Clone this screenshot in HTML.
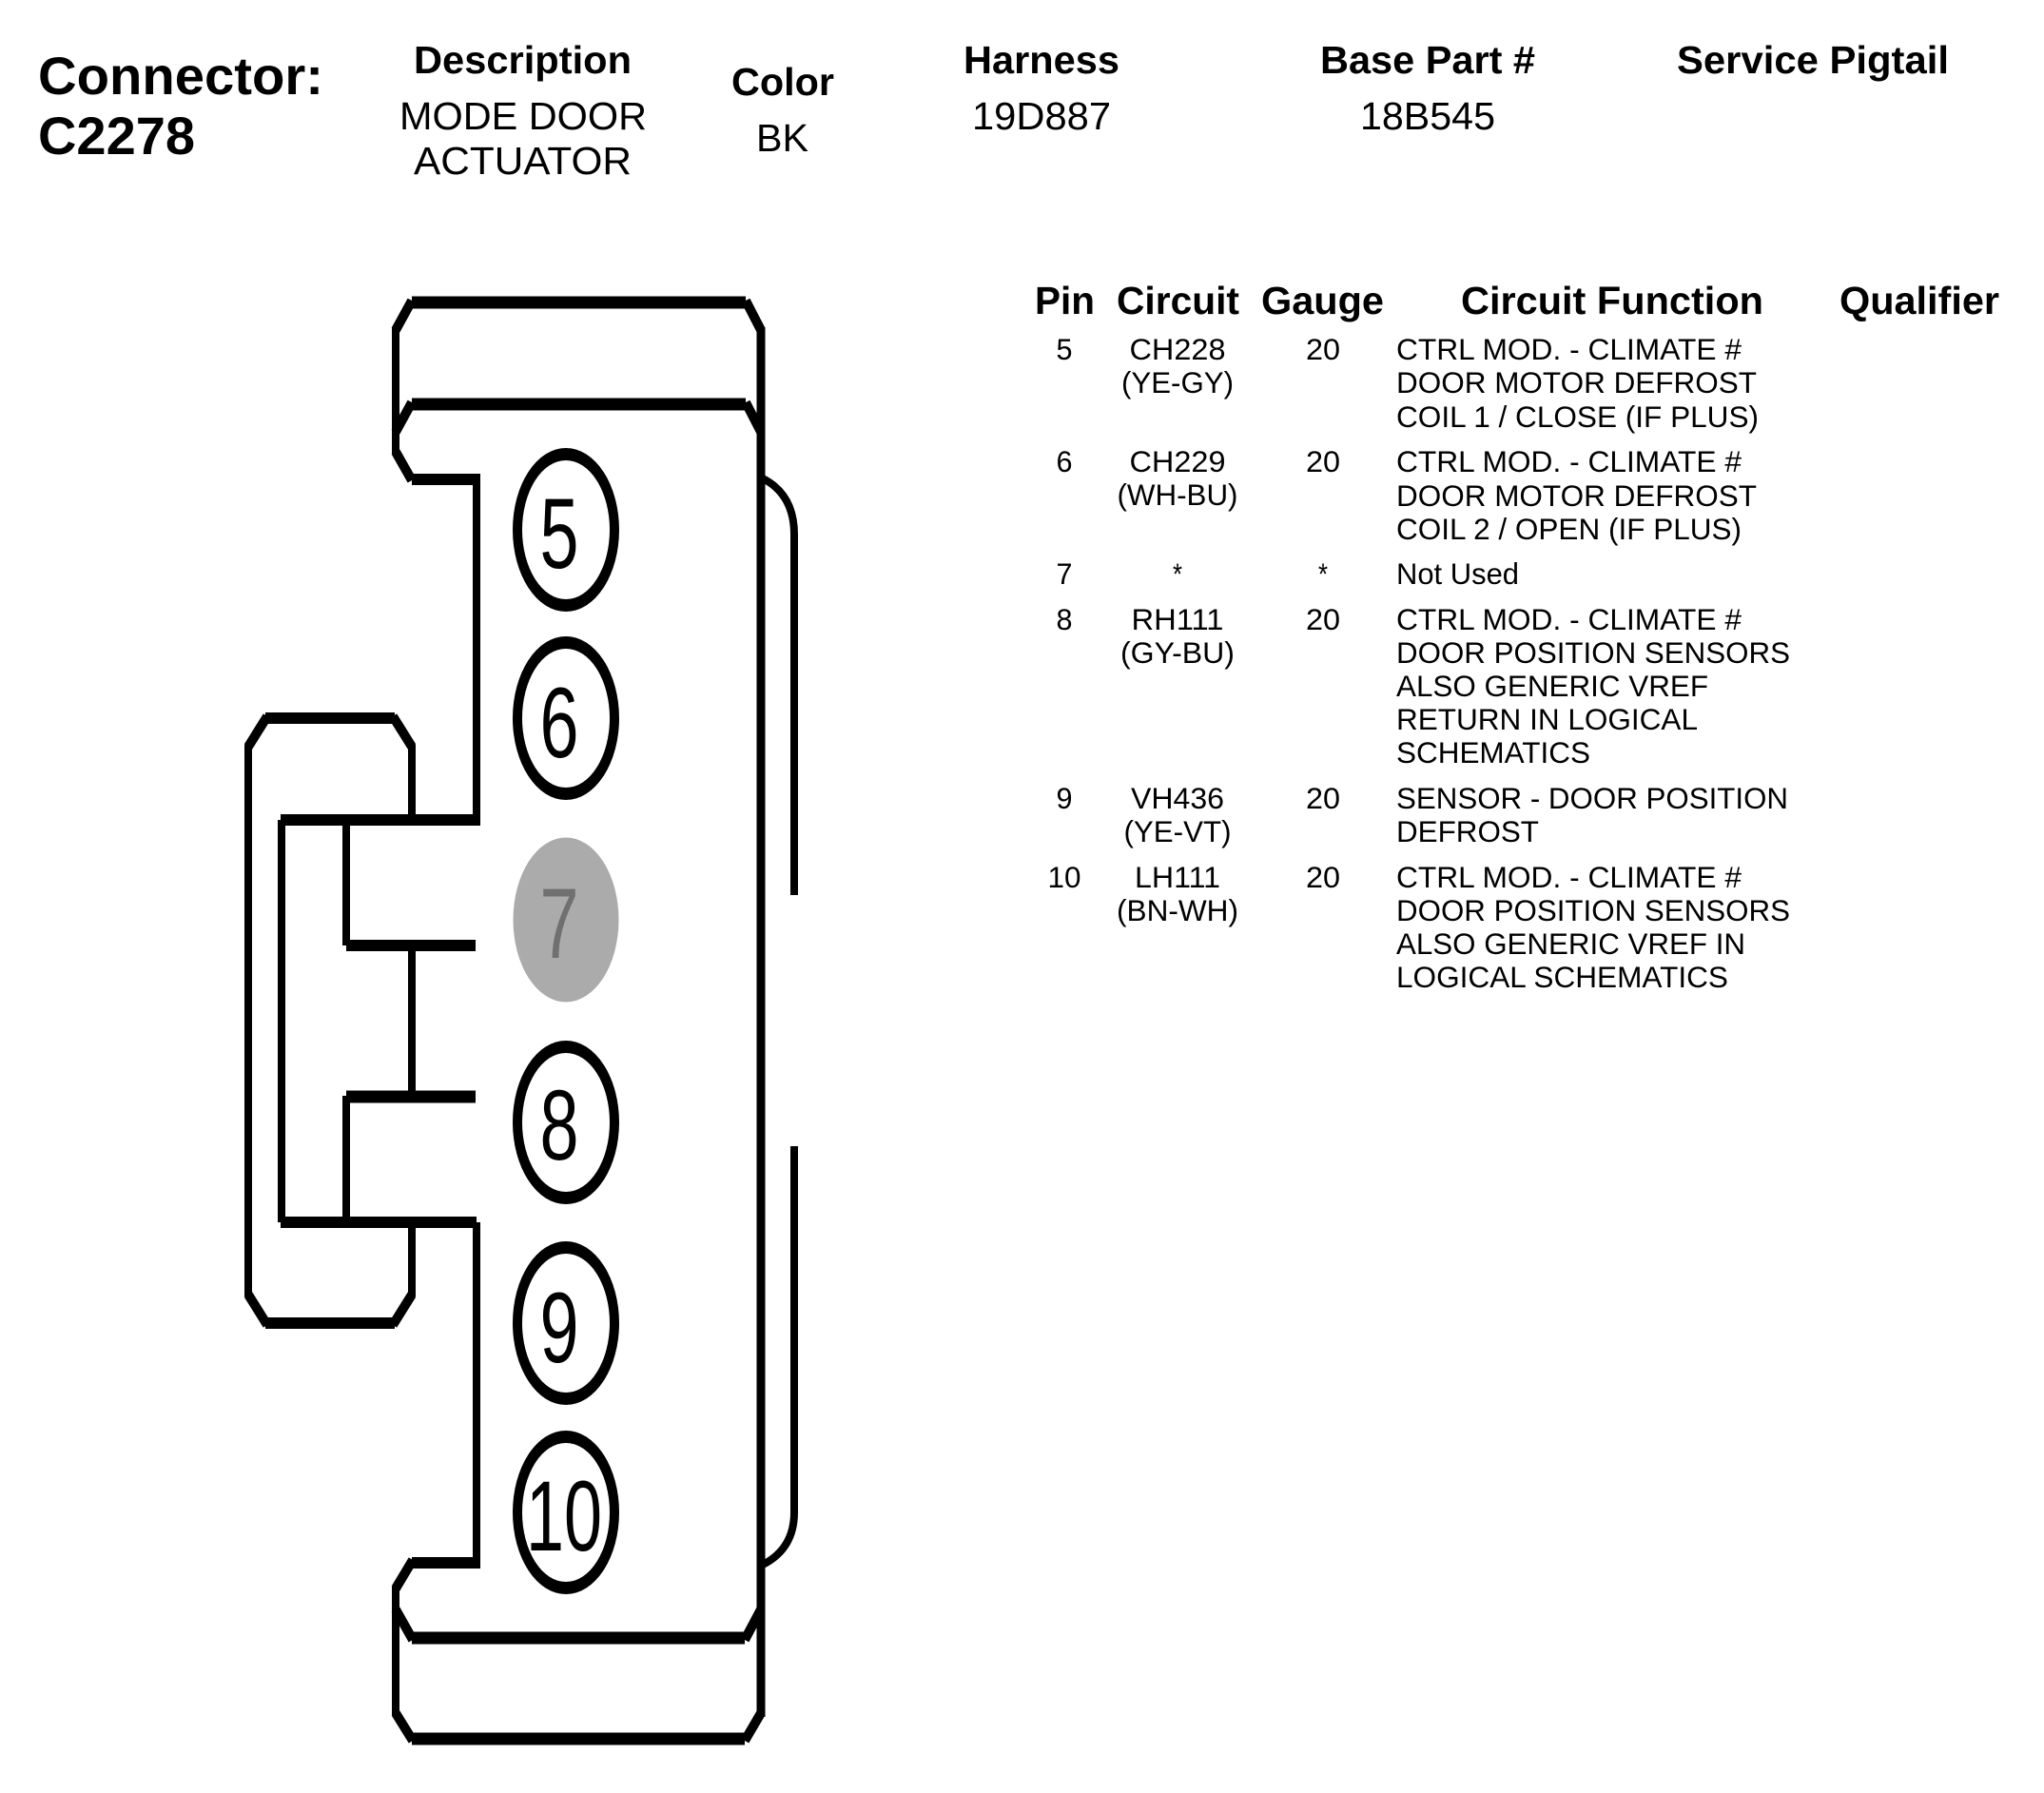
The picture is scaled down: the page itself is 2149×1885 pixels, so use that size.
<!DOCTYPE html>
<html><head><meta charset="utf-8"><style>
html,body{margin:0;padding:0;background:#fff}
svg{display:block}
text{font-family:"Liberation Sans",Arial,sans-serif;fill:#000}
.h{font-weight:bold;font-size:41px}
.v{font-size:41px}
.t{font-size:31.5px}
.d{font-size:105px}
line,polyline,path.s{stroke:#000;fill:none}
.n{stroke-width:8}.m{stroke-width:12}.b{stroke-width:13}.x{stroke-width:10}
</style></head><body>
<svg xmlns="http://www.w3.org/2000/svg" width="2149" height="1885" viewBox="0 0 2149 1885">
<rect width="2149" height="1885" fill="#fff"/>
<!-- Header -->
<g text-anchor="start">
<text x="40" y="99" font-weight="bold" font-size="56" textLength="300" lengthAdjust="spacingAndGlyphs">Connector:</text>
<text x="40" y="162" font-weight="bold" font-size="56" textLength="165" lengthAdjust="spacingAndGlyphs">C2278</text>
<text class="h" x="435" y="77" textLength="229" lengthAdjust="spacingAndGlyphs">Description</text>
<text class="h" x="769" y="100" textLength="108" lengthAdjust="spacingAndGlyphs">Color</text>
<text class="h" x="1013" y="77" textLength="164" lengthAdjust="spacingAndGlyphs">Harness</text>
<text class="h" x="1388" y="77" textLength="226" lengthAdjust="spacingAndGlyphs">Base Part #</text>
<text class="h" x="1763" y="77" textLength="286" lengthAdjust="spacingAndGlyphs">Service Pigtail</text>
<text class="v" x="420" y="136" textLength="260" lengthAdjust="spacingAndGlyphs">MODE DOOR</text>
<text class="v" x="435" y="183" textLength="229" lengthAdjust="spacingAndGlyphs">ACTUATOR</text>
<text class="v" x="795" y="159" textLength="55" lengthAdjust="spacingAndGlyphs">BK</text>
<text class="v" x="1022" y="136" textLength="146" lengthAdjust="spacingAndGlyphs">19D887</text>
<text class="v" x="1430" y="136" textLength="142" lengthAdjust="spacingAndGlyphs">18B545</text>
<!-- Table head -->
<text class="h" x="1088" y="330" font-size="41" textLength="63" lengthAdjust="spacingAndGlyphs">Pin</text>
<text class="h" x="1174" y="330" textLength="129" lengthAdjust="spacingAndGlyphs">Circuit</text>
<text class="h" x="1326" y="330" textLength="129" lengthAdjust="spacingAndGlyphs">Gauge</text>
<text class="h" x="1536" y="330" textLength="318" lengthAdjust="spacingAndGlyphs">Circuit Function</text>
<text class="h" x="1934" y="330" textLength="168" lengthAdjust="spacingAndGlyphs">Qualifier</text>
<!-- Function column -->
<g class="t">
<text class="t" x="1468" y="378" textLength="363" lengthAdjust="spacingAndGlyphs">CTRL MOD. - CLIMATE #</text>
<text class="t" x="1468" y="413" textLength="379" lengthAdjust="spacingAndGlyphs">DOOR MOTOR DEFROST</text>
<text class="t" x="1468" y="449" textLength="381" lengthAdjust="spacingAndGlyphs">COIL 1 / CLOSE (IF PLUS)</text>
<text class="t" x="1468" y="496" textLength="363" lengthAdjust="spacingAndGlyphs">CTRL MOD. - CLIMATE #</text>
<text class="t" x="1468" y="532" textLength="379" lengthAdjust="spacingAndGlyphs">DOOR MOTOR DEFROST</text>
<text class="t" x="1468" y="567" textLength="363" lengthAdjust="spacingAndGlyphs">COIL 2 / OPEN (IF PLUS)</text>
<text class="t" x="1468" y="614" textLength="129" lengthAdjust="spacingAndGlyphs">Not Used</text>
<text class="t" x="1468" y="662" textLength="363" lengthAdjust="spacingAndGlyphs">CTRL MOD. - CLIMATE #</text>
<text class="t" x="1468" y="697" textLength="414" lengthAdjust="spacingAndGlyphs">DOOR POSITION SENSORS</text>
<text class="t" x="1468" y="732" textLength="328" lengthAdjust="spacingAndGlyphs">ALSO GENERIC VREF</text>
<text class="t" x="1468" y="767" textLength="317" lengthAdjust="spacingAndGlyphs">RETURN IN LOGICAL</text>
<text class="t" x="1468" y="802" textLength="204" lengthAdjust="spacingAndGlyphs">SCHEMATICS</text>
<text class="t" x="1468" y="850" textLength="412" lengthAdjust="spacingAndGlyphs">SENSOR - DOOR POSITION</text>
<text class="t" x="1468" y="885" textLength="150" lengthAdjust="spacingAndGlyphs">DEFROST</text>
<text class="t" x="1468" y="933" textLength="363" lengthAdjust="spacingAndGlyphs">CTRL MOD. - CLIMATE #</text>
<text class="t" x="1468" y="968" textLength="414" lengthAdjust="spacingAndGlyphs">DOOR POSITION SENSORS</text>
<text class="t" x="1468" y="1003" textLength="367" lengthAdjust="spacingAndGlyphs">ALSO GENERIC VREF IN</text>
<text class="t" x="1468" y="1038" textLength="349" lengthAdjust="spacingAndGlyphs">LOGICAL SCHEMATICS</text>
</g>
</g>
<g text-anchor="middle">
<!-- Pin -->
<text class="t" x="1119" y="378" textLength="17" lengthAdjust="spacingAndGlyphs">5</text>
<text class="t" x="1119" y="496" textLength="17" lengthAdjust="spacingAndGlyphs">6</text>
<text class="t" x="1119" y="614" textLength="17" lengthAdjust="spacingAndGlyphs">7</text>
<text class="t" x="1119" y="662" textLength="17" lengthAdjust="spacingAndGlyphs">8</text>
<text class="t" x="1119" y="850" textLength="17" lengthAdjust="spacingAndGlyphs">9</text>
<text class="t" x="1119" y="933" textLength="35" lengthAdjust="spacingAndGlyphs">10</text>
<!-- Circuit -->
<text class="t" x="1238" y="378" textLength="101" lengthAdjust="spacingAndGlyphs">CH228</text>
<text class="t" x="1238" y="413" textLength="118" lengthAdjust="spacingAndGlyphs">(YE-GY)</text>
<text class="t" x="1238" y="496" textLength="101" lengthAdjust="spacingAndGlyphs">CH229</text>
<text class="t" x="1238" y="531" textLength="127" lengthAdjust="spacingAndGlyphs">(WH-BU)</text>
<text class="t" x="1238" y="614" textLength="10" lengthAdjust="spacingAndGlyphs">*</text>
<text class="t" x="1238" y="662" textLength="97" lengthAdjust="spacingAndGlyphs">RH111</text>
<text class="t" x="1238" y="697" textLength="120" lengthAdjust="spacingAndGlyphs">(GY-BU)</text>
<text class="t" x="1238" y="850" textLength="98" lengthAdjust="spacingAndGlyphs">VH436</text>
<text class="t" x="1238" y="885" textLength="113" lengthAdjust="spacingAndGlyphs">(YE-VT)</text>
<text class="t" x="1238" y="933" textLength="90" lengthAdjust="spacingAndGlyphs">LH111</text>
<text class="t" x="1238" y="968" textLength="128" lengthAdjust="spacingAndGlyphs">(BN-WH)</text>
<!-- Gauge -->
<text class="t" x="1391" y="378" textLength="36" lengthAdjust="spacingAndGlyphs">20</text>
<text class="t" x="1391" y="496" textLength="36" lengthAdjust="spacingAndGlyphs">20</text>
<text class="t" x="1391" y="614" textLength="10" lengthAdjust="spacingAndGlyphs">*</text>
<text class="t" x="1391" y="662" textLength="36" lengthAdjust="spacingAndGlyphs">20</text>
<text class="t" x="1391" y="850" textLength="36" lengthAdjust="spacingAndGlyphs">20</text>
<text class="t" x="1391" y="933" textLength="36" lengthAdjust="spacingAndGlyphs">20</text>
</g>
<!-- Connector body -->
<line class="b" x1="433" y1="318" x2="784" y2="318"/>
<line class="x" x1="416" y1="347" x2="433" y2="316"/>
<line class="x" x1="784" y1="316" x2="800" y2="347"/>
<line class="n" x1="416" y1="344" x2="416" y2="478"/>
<line class="b" x1="433" y1="425" x2="784" y2="425"/>
<line class="x" x1="416" y1="454" x2="433" y2="423"/>
<line class="x" x1="784" y1="423" x2="800" y2="454"/>
<line class="x" x1="416" y1="475" x2="433" y2="505"/>
<line class="m" x1="433" y1="504" x2="505" y2="504"/>
<line class="n" x1="501" y1="500" x2="501" y2="868"/>
<line class="n" style="stroke-width:9" x1="800" y1="344" x2="800" y2="1805"/>
<!-- Right bump -->
<path class="s" style="stroke-width:8" d="M802 503 Q835 520 835 562 L835 941"/>
<path class="s" style="stroke-width:8" d="M835 1205 L835 1590 Q835 1628 802 1645"/>
<!-- Left latch -->
<line class="m" x1="279" y1="755" x2="415" y2="755"/>
<line class="x" x1="261" y1="785" x2="281" y2="753"/>
<line class="x" x1="413" y1="753" x2="433" y2="785"/>
<line class="n" x1="261" y1="783" x2="261" y2="1363"/>
<line class="n" x1="433" y1="783" x2="433" y2="862"/>
<line class="m" x1="295" y1="862" x2="501" y2="862"/>
<line class="n" x1="296" y1="862" x2="296" y2="1285"/>
<line class="n" x1="364" y1="862" x2="364" y2="994"/>
<line class="m" x1="364" y1="994" x2="500" y2="994"/>
<line class="n" x1="433" y1="994" x2="433" y2="1152"/>
<line class="b" x1="364" y1="1153" x2="500" y2="1153"/>
<line class="n" x1="364" y1="1152" x2="364" y2="1285"/>
<line class="m" x1="295" y1="1285" x2="501" y2="1285"/>
<line class="n" x1="433" y1="1285" x2="433" y2="1363"/>
<line class="x" x1="261" y1="1361" x2="281" y2="1393"/>
<line class="x" x1="413" y1="1393" x2="433" y2="1361"/>
<line class="m" x1="279" y1="1391" x2="415" y2="1391"/>
<!-- Bottom -->
<line class="n" x1="501" y1="1285" x2="501" y2="1648"/>
<line class="m" x1="433" y1="1643" x2="505" y2="1643"/>
<line class="x" x1="434" y1="1640" x2="416" y2="1670"/>
<line class="n" x1="416" y1="1668" x2="416" y2="1804"/>
<line class="x" x1="416" y1="1692" x2="434" y2="1724"/>
<line class="b" x1="433" y1="1722" x2="783" y2="1722"/>
<line class="x" x1="783" y1="1724" x2="800" y2="1692"/>
<line class="x" x1="416" y1="1801" x2="434" y2="1830"/>
<line class="b" x1="433" y1="1828" x2="783" y2="1828"/>
<line class="x" x1="783" y1="1830" x2="800" y2="1801"/>
<!-- Pins -->
<g fill="#fff" stroke="none">
<path fill="#000" fill-rule="evenodd" d="M539 557a56 86 0 1 0 112 0a56 86 0 1 0 -112 0zM549 557a46 73 0 1 1 92 0a46 73 0 1 1 -92 0z"/>
<path fill="#000" fill-rule="evenodd" d="M539 755a56 86 0 1 0 112 0a56 86 0 1 0 -112 0zM549 755a46 73 0 1 1 92 0a46 73 0 1 1 -92 0z"/>
<ellipse cx="595" cy="967" rx="55.5" ry="86.5" fill="#ababab"/>
<path fill="#000" fill-rule="evenodd" d="M539 1180a56 86 0 1 0 112 0a56 86 0 1 0 -112 0zM549 1180a46 73 0 1 1 92 0a46 73 0 1 1 -92 0z"/>
<path fill="#000" fill-rule="evenodd" d="M539 1391a56 86 0 1 0 112 0a56 86 0 1 0 -112 0zM549 1391a46 73 0 1 1 92 0a46 73 0 1 1 -92 0z"/>
<path fill="#000" fill-rule="evenodd" d="M539 1590a56 86 0 1 0 112 0a56 86 0 1 0 -112 0zM549 1590a46 73 0 1 1 92 0a46 73 0 1 1 -92 0z"/>
</g>
<g text-anchor="middle">
<text class="d" x="588" y="597" textLength="41" lengthAdjust="spacingAndGlyphs">5</text>
<text class="d" x="588" y="796" textLength="41" lengthAdjust="spacingAndGlyphs">6</text>
<text class="d" x="588" y="1007" textLength="41" lengthAdjust="spacingAndGlyphs" style="fill:#707070">7</text>
<text class="d" x="588" y="1219" textLength="41" lengthAdjust="spacingAndGlyphs">8</text>
<text class="d" x="588" y="1432" textLength="41" lengthAdjust="spacingAndGlyphs">9</text>
<text class="d" x="593" y="1630" textLength="80" lengthAdjust="spacingAndGlyphs">10</text>
</g>
</svg>
</body></html>
